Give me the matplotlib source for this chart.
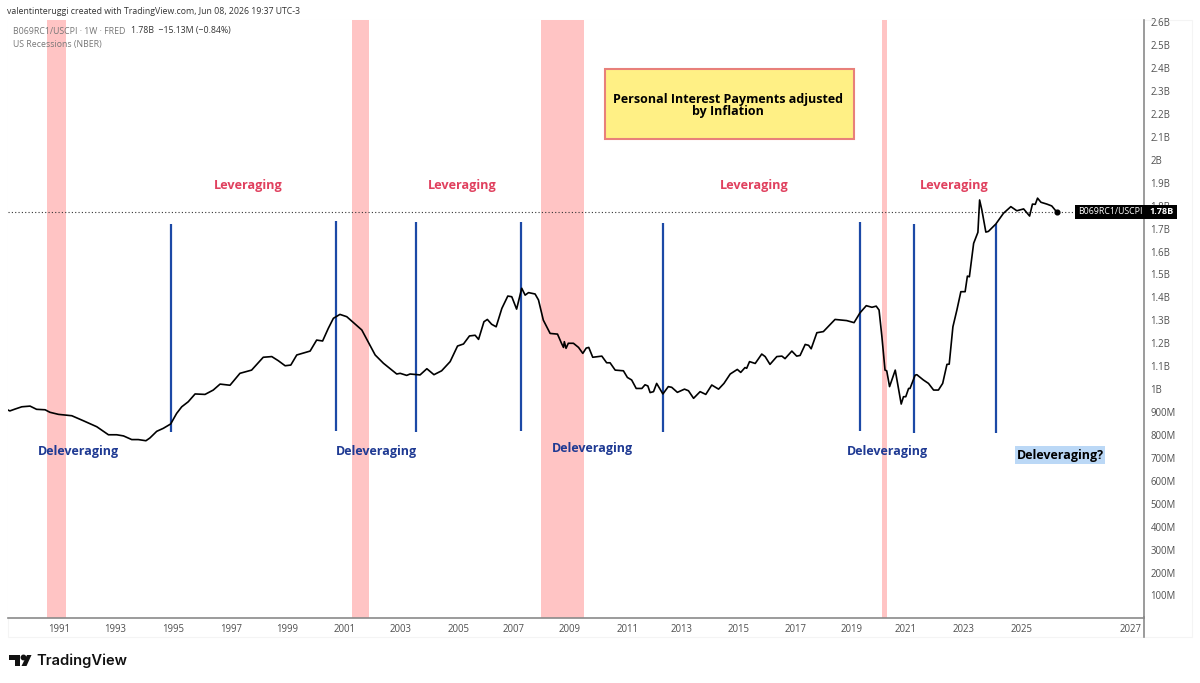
import matplotlib
matplotlib.use("Agg")
import matplotlib.pyplot as plt
from matplotlib.patches import Rectangle, Polygon

W, H = 1200, 683

# series, billions of dollars
years = [1989.20,1989.27,1989.45,1989.69,1989.98,1990.21,1990.51,1990.68,1990.98,1991.45,1991.86,1992.33,1992.74,1993.03,1993.27,1993.56,1993.79,1994.06,1994.20,1994.44,1994.67,1994.93,1995.14,1995.32,1995.55,1995.79,1996.14,1996.43,1996.67,1997.02,1997.37,1997.78,1998.19,1998.49,1998.72,1998.96,1999.16,1999.37,1999.84,2000.07,2000.28,2000.48,2000.66,2000.89,2001.13,2001.66,2002.13,2002.42,2002.89,
         2003.01,2003.24,2003.36,2003.71,2003.95,2004.20,2004.47,2004.77,2005.03,2005.24,2005.45,2005.65,2005.77,2005.96,2006.08,2006.23,2006.39,2006.59,2006.80,2006.94,2007.11,2007.29,2007.41,2007.53,2007.76,2007.88,2008.05,2008.29,2008.55,2008.69,2008.76,2008.79,2008.85,2008.93,2009.11,2009.29,2009.44,2009.56,2009.65,2009.79,2010.11,2010.28,2010.40,2010.58,2010.87,2011.01,2011.16,2011.32,2011.52,2011.63,2011.73,2011.81,2011.93,2012.04,2012.26,2012.45,2012.57,2012.77,2013.02,2013.16,2013.34,2013.57,2013.77,2013.98,2014.22,2014.41,2014.63,2014.88,2015.00,2015.15,2015.21,2015.31,2015.51,2015.74,2015.86,2016.03,2016.27,2016.45,2016.56,2016.80,2016.97,2017.09,2017.27,2017.39,2017.48,2017.68,2017.91,2018.32,2018.56,2018.73,2018.99,
         2019.20,2019.42,2019.62,2019.77,2019.87,2019.97,2020.08,2020.14,2020.24,2020.44,2020.65,2020.73,2020.81,2020.91,2020.96,2021.14,2021.20,2021.43,2021.61,2021.79,2021.96,2022.11,2022.26,2022.34,2022.47,2022.61,2022.75,2022.90,2022.98,2023.05,2023.20,2023.35,2023.41,2023.49,2023.63,2023.72,2023.98,2024.25,2024.51,2024.72,2024.96,2025.17,2025.27,2025.37,2025.45,2025.57,2025.78,2025.95,2026.13]
values = [0.909,0.905,0.913,0.923,0.926,0.912,0.910,0.899,0.890,0.884,0.862,0.836,0.801,0.801,0.796,0.780,0.780,0.775,0.787,0.816,0.829,0.848,0.894,0.923,0.945,0.979,0.977,0.996,1.022,1.017,1.069,1.083,1.139,1.142,1.124,1.102,1.105,1.149,1.166,1.214,1.210,1.265,1.309,1.326,1.316,1.258,1.149,1.113,1.066,
          1.069,1.060,1.066,1.062,1.089,1.063,1.080,1.120,1.188,1.197,1.232,1.235,1.217,1.294,1.304,1.283,1.272,1.352,1.406,1.403,1.349,1.440,1.410,1.421,1.415,1.389,1.301,1.243,1.240,1.200,1.182,1.207,1.178,1.200,1.200,1.182,1.156,1.179,1.182,1.139,1.144,1.115,1.115,1.083,1.080,1.051,1.040,1.003,1.003,1.019,1.014,0.985,0.989,1.025,0.979,1.011,1.008,0.986,1.000,0.993,0.960,0.989,0.977,1.018,1.000,1.025,1.066,1.086,1.073,1.094,1.091,1.120,1.112,1.153,1.142,1.108,1.142,1.144,1.133,1.166,1.144,1.147,1.195,1.191,1.176,1.246,1.251,1.304,1.301,1.299,1.290,
          1.333,1.364,1.357,1.362,1.345,1.229,1.083,1.080,1.011,1.083,0.935,0.967,0.967,1.003,1.003,1.061,1.063,1.040,1.025,0.996,0.996,1.025,1.108,1.109,1.272,1.345,1.425,1.425,1.493,1.490,1.636,1.684,1.825,1.781,1.685,1.688,1.720,1.767,1.796,1.778,1.786,1.755,1.807,1.806,1.833,1.815,1.807,1.799,1.772]
last_value = 1.772

rec_start = [1990.58, 2001.32, 2007.97, 2019.98]
rec_end = [1991.24, 2001.93, 2009.49, 2020.15]

blue_x = [1994.94, 2000.75, 2003.57, 2007.27, 2012.27, 2019.20, 2021.11, 2023.99]
blue_top = [1.720, 1.733, 1.729, 1.729, 1.725, 1.729, 1.720, 1.720]
blue_bot = [0.813, 0.817, 0.813, 0.817, 0.813, 0.817, 0.809, 0.809]

ytick_vals = [0.1*i for i in range(1, 27)]
ytick_labels = ["100M","200M","300M","400M","500M","600M","700M","800M","900M","1B",
                "1.1B","1.2B","1.3B","1.4B","1.5B","1.6B","1.7B","1.8B","1.9B","2B",
                "2.1B","2.2B","2.3B","2.4B","2.5B","2.6B"]
xtick_pos = [1991,1992.97,1995.01,1997.06,1999.03,2001.04,2003.04,2005.08,2006.99,2008.99,
             2011.0,2012.9,2014.94,2016.92,2018.89,2020.79,2022.83,2024.87,2028.72]
xtick_labels = ["1991","1993","1995","1997","1999","2001","2003","2005","2007","2009",
                "2011","2013","2015","2017","2019","2021","2023","2025","2027"]

lev_x = [1997.65, 2005.19, 2015.49, 2022.50]
lev_y = [1.886, 1.886, 1.890, 1.890]
delev_x = [1991.67, 2002.16, 2009.77, 2020.15]
delev_y = [0.726, 0.726, 0.739, 0.726]

plt.rcParams['font.family'] = ['Open Sans', 'DejaVu Sans']

fig = plt.figure(figsize=(W/100, H/100), dpi=100)

# helpers for pixel placement of the page furniture
def fx(px):
    return px/W
def fy(py):
    return 1 - py/H

ax = fig.add_axes([fx(8), fy(617.5), fx(1143.5)-fx(8), fy(20)-fy(617.5)])
ax.set_xlim(1989.204, 2029.18)
ax.set_ylim(0.004, 2.61)

for a, b in zip(rec_start, rec_end):
    ax.axvspan(a, b, color="#ffc4c4", lw=0, zorder=1)

ax.axhline(last_value, color="#333333", lw=0.8, ls=(0, (1, 2)), zorder=2)

for x, t, b in zip(blue_x, blue_top, blue_bot):
    ax.plot([x, x], [b, t], color="#1c49a6", lw=1.6, zorder=3, solid_capstyle="butt")

ax.plot(years, values, color="black", lw=1.2, zorder=4, solid_joinstyle="round")
ax.plot([years[-1]], [last_value], "o", color="black", ms=3.4, zorder=5)

for s in ["top", "left"]:
    ax.spines[s].set_visible(False)
ax.spines["right"].set_color("#8a8a8a")
ax.spines["bottom"].set_color("#8a8a8a")
ax.spines["right"].set_linewidth(1.2)
ax.spines["bottom"].set_linewidth(1.2)

ax.yaxis.tick_right()
ax.set_yticks(ytick_vals)
ax.set_yticklabels(ytick_labels)
ax.set_xticks(xtick_pos)
ax.set_xticklabels(xtick_labels)
ax.tick_params(axis="y", length=0, pad=5, labelsize=6.9, labelcolor="#505050")
ax.tick_params(axis="x", length=0, pad=5, labelsize=6.9, labelcolor="#505050")

# outer frame of the screenshot
fig.add_artist(Rectangle((fx(8), fy(637)), fx(1192)-fx(8), fy(20)-fy(637), fill=False,
                         ec="#f4f4f4", lw=0.8, transform=fig.transFigure, zorder=-1))
fig.add_artist(plt.Line2D([fx(1143.5), fx(1143.5)], [fy(637), fy(617)], color="#8a8a8a", lw=1.2))

# header text
fig.text(fx(7), fy(11), "valentinteruggi created with TradingView.com, Jun 08, 2026 19:37 UTC-3",
         fontsize=6.3, color="#333333", va="center")
fig.text(fx(13), fy(31), "B069RC1/USCPI · 1W · FRED", fontsize=6.3, color="#777777", va="center")
fig.text(fx(131), fy(31), "1.78B  −15.13M (−0.84%)", fontsize=6.3, color="#333333", va="center")
fig.text(fx(13), fy(44), "US Recessions (NBER)", fontsize=6.3, color="#777777", va="center")

# yellow title box
fig.add_artist(Rectangle((fx(605), fy(139)), fx(854)-fx(605), fy(69)-fy(139), fc="#fff085",
                         ec="#e8807a", lw=1.5, transform=fig.transFigure, zorder=2))
fig.text(fx(728), fy(105.5), "Personal Interest Payments adjusted\nby Inflation", ha="center", va="center",
         fontsize=9, fontweight="bold", color="black", linespacing=1.0, zorder=3)

# annotations
for x, y in zip(lev_x, lev_y):
    ax.text(x, y, "Leveraging", color="#e0405e", fontsize=9.1, fontweight="bold", ha="center",
            va="center", zorder=6)
for x, y in zip(delev_x, delev_y):
    ax.text(x, y, "Deleveraging", color="#1f3a93", fontsize=9.0, fontweight="bold", ha="center",
            va="center", zorder=6)
fig.add_artist(Rectangle((fx(1015), fy(464)), 90/W, 18/H, fc="#bbd8f6", ec="none",
                         transform=fig.transFigure, zorder=2))
fig.text(fx(1060), fy(455), "Deleveraging?", color="black", fontsize=9.0, fontweight="bold", ha="center",
         va="center", zorder=3)

# last price tag
fig.add_artist(Rectangle((fx(1075), fy(218.5)), 102/W, 13.5/H, fc="black", ec="none",
                         transform=fig.transFigure, zorder=2))
fig.text(fx(1078), fy(212), "B069RC1/USCPI", color="white", fontsize=6.3, va="center", zorder=3)
fig.text(fx(1174), fy(212), "1.78B", color="white", fontsize=6.6, fontweight="bold", ha="right",
         va="center", zorder=3)

# TradingView logo
logo = [Polygon([(fx(9), fy(655)), (fx(20), fy(655)), (fx(20), fy(666)), (fx(15), fy(666)),
                 (fx(15), fy(659.5)), (fx(9), fy(659.5))], closed=True),
        Polygon([(fx(27), fy(655)), (fx(31.5), fy(655)), (fx(26.5), fy(666)), (fx(21.5), fy(666))], closed=True)]
for p in logo:
    p.set(fc="#111111", ec="none", transform=fig.transFigure)
    fig.add_artist(p)
fig.add_artist(plt.Line2D([fx(23.2)], [fy(657.2)], marker="o", ms=3.2, color="#111111", ls=""))
fig.text(fx(36.5), fy(660.5), "TradingView", fontsize=10.6, fontweight="semibold", color="#111111",
         family=["Inter", "DejaVu Sans"], va="center")

fig.savefig("out.png", dpi=100)
